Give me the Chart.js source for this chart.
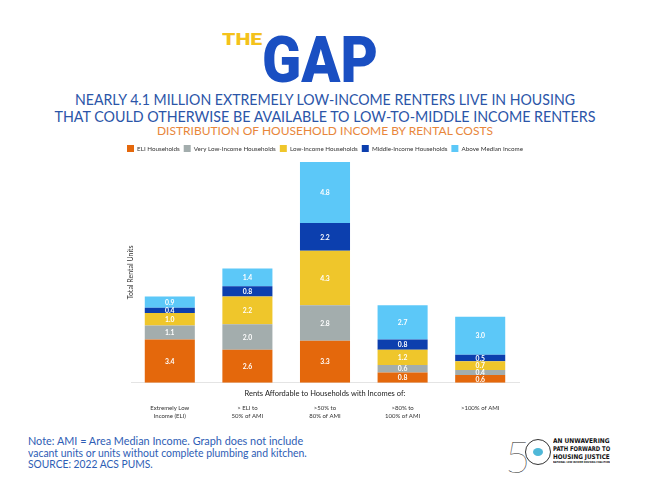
<!DOCTYPE html>
<html lang="en">

<head>
    <meta charset="UTF-8">
    <meta name="viewport" content="width=device-width, initial-scale=1.0">
    <script src="https://cdn.jsdelivr.net/npm/chart.js"></script>
    <title>The Gap</title>
    <style>
        body { margin: 0; width: 650px; height: 491px; background: #fff; position: relative; overflow: hidden; font-family: Lato, sans-serif; }
        .abs { position: absolute; white-space: nowrap; line-height: 1; }
        .linha { left: 0; width: 650px; text-align: center; }
        #the { left: 222px; top: 29px; font: 900 17px Roboto, sans-serif; color: #f4c21b; transform-origin: left center; }
        #gap { left: 262px; top: 23px; font: 900 64px Roboto, sans-serif; color: #1a4fc2; transform-origin: left center; }
        .sub { font-size: 15.5px; color: #2b55a8; }
        #sub3 { font-size: 12px; color: #e8863a; }
        .nota { left: 28px; font-size: 10.5px; color: #2e5db5; transform-origin: left center; }
        #cinco { left: 505px; top: 430px; font: 200 44px Lato, sans-serif; color: #222; }
        #anel { left: 525px; top: 439px; width: 24px; height: 24px; border: 1px solid #333; border-radius: 50%; }
        #anel div { position: absolute; left: 7px; top: 8px; width: 10px; height: 8px; border-radius: 50%; background: #4fb8d8; }
        .logo { left: 553px; font: bold 6.4px "DejaVu Sans", sans-serif; color: #111; transform-origin: left center; }
        #coalizao { font-size: 2.6px; font-weight: bold; }
        #grafico-box { position: absolute; left: 0; top: 140px; width: 650px; height: 290px; }
    </style>
</head>

<body>
    <div class="abs" id="the">THE</div>
    <div class="abs" id="gap">GAP</div>
    <div class="abs linha sub" id="sub1" style="top: 92px;">NEARLY 4.1 MILLION EXTREMELY LOW-INCOME RENTERS LIVE IN HOUSING</div>
    <div class="abs linha sub" id="sub2" style="top: 109px;">THAT COULD OTHERWISE BE AVAILABLE TO LOW-TO-MIDDLE INCOME RENTERS</div>
    <div class="abs linha" id="sub3" style="top: 124.6px;">DISTRIBUTION OF HOUSEHOLD INCOME BY RENTAL COSTS</div>

    <div id="grafico-box"><canvas id="grafico"></canvas></div>

    <div class="abs nota" id="nota1" style="top: 436px;">Note: AMI = Area Median Income. Graph does not include</div>
    <div class="abs nota" id="nota2" style="top: 447.5px;">vacant units or units without complete plumbing and kitchen.</div>
    <div class="abs nota" id="nota3" style="top: 459px;">SOURCE: 2022 ACS PUMS.</div>

    <div class="abs" id="cinco">5</div>
    <div class="abs" id="anel"><div></div></div>
    <div class="abs logo" id="logo1" style="top: 437px;">AN UNWAVERING</div>
    <div class="abs logo" id="logo2" style="top: 445px;">PATH FORWARD TO</div>
    <div class="abs logo" id="logo3" style="top: 453px;">HOUSING JUSTICE</div>
    <div class="abs logo" id="coalizao" style="top: 461px;">NATIONAL LOW INCOME HOUSING COALITION</div>
</body>

</html>

<script>
    // categorias do eixo x (duas linhas cada)
    var categorias = [
        ['Extremely Low', 'Income (ELI)'],
        ['> ELI to', '50% of AMI'],
        ['>50% to', '80% of AMI'],
        ['>80% to', '100% of AMI'],
        ['>100% of AMI']
    ]
    var nomesSeries = ['ELI Households', 'Very Low-Income Households', 'Low-Income Households', 'Middle-Income Households', 'Above Median Income']

    // valores em milhoes de unidades
    var eli = [3.4, 2.6, 3.3, 0.8, 0.6]
    var veryLow = [1.1, 2.0, 2.8, 0.6, 0.4]
    var low = [1.0, 2.2, 4.3, 1.2, 0.7]
    var middle = [0.4, 0.8, 2.2, 0.8, 0.5]
    var above = [0.9, 1.4, 4.8, 2.7, 3.0]

    var cores = ['#e4680c', '#a3adad', '#efc62b', '#0c3fae', '#5cc8f8']

    // ajusta largura dos textos do cabecalho
    function esticar(id, largura) {
        var el = document.getElementById(id)
        var w = el.scrollWidth
        if (el.classList.contains('linha')) {
            var span = document.createElement('span')
            span.textContent = el.textContent
            el.textContent = ''
            el.appendChild(span)
            w = span.getBoundingClientRect().width
        }
        el.style.transform = 'scaleX(' + (largura / w) + ')'
    }
    esticar('the', 40)
    esticar('gap', 116)
    esticar('sub1', 500)
    esticar('sub2', 541)
    esticar('sub3', 336)
    esticar('nota1', 275)
    esticar('nota2', 279)
    esticar('nota3', 125)
    esticar('logo1', 57)
    esticar('logo2', 57)
    esticar('logo3', 57)
    esticar('coalizao', 57)

    const rotulos = {
        id: 'rotulos',
        afterDatasetsDraw(chart) {
            const ctx = chart.ctx
            ctx.save()
            ctx.font = 'bold 6.8px Lato'
            ctx.fillStyle = '#ffffff'
            ctx.textAlign = 'center'
            ctx.textBaseline = 'middle'
            chart.data.datasets.forEach(function (ds, i) {
                chart.getDatasetMeta(i).data.forEach(function (barra, j) {
                    const p = barra.getProps(['x', 'y', 'base'], true)
                    ctx.fillText(ds.data[j].toFixed(1), p.x, (p.y + p.base) / 2 + 0.5)
                })
            })
            ctx.restore()
        }
    }

    var series = [eli, veryLow, low, middle, above]
    var dados = {
        labels: categorias,
        datasets: series.map(function (valores, i) {
            return {
                label: nomesSeries[i],
                data: valores,
                backgroundColor: cores[i],
                borderWidth: 0
            }
        })
    }

    const fonte = 'Lato'
    const grafico = new Chart(document.getElementById('grafico'), {
        type: 'bar',
        data: dados,
        plugins: [rotulos],
        options: {
            responsive: true,
            maintainAspectRatio: false,
            animation: false,
            layout: { padding: { top: 1, left: 100, right: 100, bottom: 7.6 } },
            datasets: { bar: { categoryPercentage: 1, barPercentage: 0.645 } },
            plugins: {
                legend: {
                    position: 'top',
                    labels: { boxWidth: 7, boxHeight: 7, padding: 4, color: '#333', font: { size: 6.25, family: fonte } }
                },
                tooltip: { enabled: false }
            },
            scales: {
                x: {
                    stacked: true,
                    ticks: { display: false },
                    grid: { display: false, drawTicks: false },
                    border: { display: true, color: '#e4e4e4', width: 1 },
                    title: {
                        display: true,
                        text: 'Rents Affordable to Households with Incomes of:',
                        color: '#222',
                        font: { size: 7.5, family: fonte },
                        padding: { top: 6, bottom: 3.5 }
                    }
                },
                x2: {
                    type: 'category',
                    labels: categorias,
                    position: 'bottom',
                    weight: 1,
                    offset: true,
                    ticks: { color: '#333', padding: 2.5, autoSkip: false, maxRotation: 0, font: { size: 6, family: fonte, lineHeight: 1.35 } },
                    grid: { display: false, drawTicks: false },
                    border: { display: false }
                },
                y: {
                    stacked: true,
                    min: 0,
                    max: 17.4,
                    ticks: { display: false },
                    grid: { display: false, drawTicks: false },
                    border: { display: false },
                    title: {
                        display: true,
                        text: 'Total Rental Units',
                        color: '#333',
                        font: { size: 7, family: fonte },
                        padding: { top: 26.5, bottom: 0 }
                    },
                    afterFit: function (escala) { escala.width = 31 }
                },
                y2: {
                    position: 'right',
                    display: true,
                    ticks: { display: false },
                    grid: { display: false, drawTicks: false },
                    border: { display: false },
                    afterFit: function (escala) { escala.width = 31 }
                }
            }
        }
    });
</script>
